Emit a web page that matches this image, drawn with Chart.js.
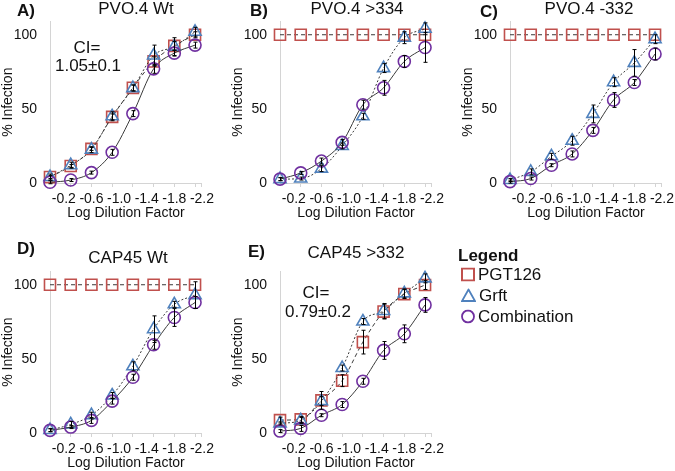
<!DOCTYPE html>
<html>
<head>
<meta charset="utf-8">
<script src="https://cdn.jsdelivr.net/npm/chart.js@4.4.1/dist/chart.umd.min.js"></script>
<style>
  body { margin: 0; width: 675px; height: 471px; overflow: hidden; background: #fff; position: relative;
         font-family: "Liberation Sans", Arial, sans-serif; color: #111; }
  canvas { position: absolute; }
  .c { position: absolute; transform: translate(-50%, -50%); white-space: nowrap; line-height: 1; font-size: 17px; }
  .l { position: absolute; transform: translateY(-50%); white-space: nowrap; line-height: 1; font-size: 17px; }
  .b { font-weight: bold; }
  .leg { position: absolute; left: 461px; transform: translateY(-50%); white-space: nowrap; line-height: 1; font-size: 17px; display: flex; align-items: center; }
  .leg svg { margin-right: 3px; }
</style>
</head>
<body>
<canvas id="chartA" width="218" height="225" style="left:0px;top:0px"></canvas>
<canvas id="chartB" width="218" height="225" style="left:230px;top:0px"></canvas>
<canvas id="chartC" width="218" height="225" style="left:460px;top:0px"></canvas>
<canvas id="chartD" width="218" height="225" style="left:0px;top:250px"></canvas>
<canvas id="chartE" width="218" height="225" style="left:230px;top:250px"></canvas>

<div class="l b" style="left:17px;top:10px">A)</div>
<div class="l b" style="left:250px;top:10px">B)</div>
<div class="l b" style="left:480px;top:11px">C)</div>
<div class="l b" style="left:17px;top:248px">D)</div>
<div class="l b" style="left:248px;top:251px">E)</div>

<div class="c" style="left:136px;top:8px">PVO.4 Wt</div>
<div class="c" style="left:357px;top:8px">PVO.4 &gt;334</div>
<div class="c" style="left:589px;top:8px">PVO.4 -332</div>
<div class="c" style="left:128px;top:257px">CAP45 Wt</div>
<div class="c" style="left:356px;top:252px">CAP45 &gt;332</div>

<div class="c" style="left:87px;top:47px">CI=</div>
<div class="c" style="left:88px;top:65px">1.05±0.1</div>
<div class="c" style="left:316px;top:292px">CI=</div>
<div class="c" style="left:318px;top:311px">0.79±0.2</div>

<div class="l b" style="left:458px;top:255px">Legend</div>
<div class="leg" style="top:274px"><svg width="14" height="14"><rect x="1" y="1" width="12" height="12" fill="none" stroke="#C0504D" stroke-width="2"/></svg>PGT126</div>
<div class="leg" style="top:295px"><svg width="15" height="14"><polygon points="7.5,1 14,12.5 1,12.5" fill="none" stroke="#4F81BD" stroke-width="1.8"/></svg>Grft</div>
<div class="leg" style="top:316px"><svg width="14" height="14"><circle cx="7" cy="7" r="6" fill="none" stroke="#7030A0" stroke-width="1.8"/></svg>Combination</div>

<script>
// x positions of the dilution series (log10 of the dilution)
const logDilution = [0, -0.3, -0.6, -0.9, -1.2, -1.5, -1.8, -2.1];
const xTickLabels = [-0.2, -0.6, -1.0, -1.4, -1.8, -2.2];
const yTicks = [0, 50, 100];

// A) PVO.4 Wt
const pgtA = [4, 11.5, 23, 44.6, 64.2, 82, 92.5, 100];
const pgtErrA = [1, 1, 1, 2, 2, 3, 3, 2];
const grftA = [4, 12, 22.5, 45, 64, 86, 92, 102];
const grftErrA = [2, 2, 2, 3, 2, 7, 6, 3];
const comboA = [0.5, 2, 7, 20.7, 46.8, 77, 87.6, 93];
const comboErrA = [1, 1, 1, 2, 2, 3, 2, 2];

// B) PVO.4 >334
const pgtB = [100, 100, 100, 100, 100, 100, 100, 100];
const pgtErrB = [0, 0, 0, 0, 0, 0, 0, 0];
const grftB = [2.6, 3, 9.7, 25, 45, 77.5, 98, 104];
const grftErrB = [1, 1, 2, 2, 2, 3, 4, 4];
const comboB = [2.6, 6.8, 14.8, 27.4, 52.8, 64.2, 82, 91.4];
const comboErrB = [1, 1, 2, 2, 3, 5, 4, 10];

// C) PVO.4 -332
const pgtC = [100, 100, 100, 100, 100, 100, 100, 100];
const pgtErrC = [0, 0, 0, 0, 0, 0, 0, 0];
const grftC = [2, 7.5, 18, 28.5, 46.6, 68, 81, 97];
const grftErrC = [1, 2, 2, 3, 6, 3, 9, 3];
const comboC = [0.9, 3, 12, 19.6, 35.5, 56, 67.8, 87];
const comboErrC = [1, 1, 1, 2, 2, 5, 2, 4];

// D) CAP45 Wt
const pgtD = [100, 100, 100, 100, 100, 100, 100, 100];
const pgtErrD = [0, 0, 0, 0, 0, 0, 0, 0];
const grftD = [2, 5.8, 12, 25.3, 45, 70, 86.8, 93];
const grftErrD = [1, 2, 2, 2, 3, 9, 2, 9];
const comboD = [1.8, 4, 8.5, 21.5, 37.6, 59.5, 77.9, 88];
const comboErrD = [1, 1, 2, 2, 2, 3, 6, 4];

// E) CAP45 >332
const pgtE = [8.7, 9.2, 22, 35.3, 61.3, 81.9, 93.7, 99.8];
const pgtErrE = [2, 2, 6, 4, 8, 5, 3, 3];
const grftE = [6.5, 8.5, 21.5, 43.8, 75.2, 82.3, 94.2, 104.3];
const grftErrE = [1, 2, 3, 2, 2, 5, 3, 3];
const comboE = [1.3, 3.1, 12, 19.2, 34.9, 55.7, 66.9, 86.4];
const comboErrE = [1, 2, 1, 2, 2, 6, 6, 5];

const RED = "#C0504D";
const BLUE = "#4F81BD";
const PURPLE = "#7030A0";
const AXIS = "#d4d4d4";

Chart.defaults.font.family = '"Liberation Sans", Arial, sans-serif';
Chart.defaults.color = "#111";

const near = (a, b) => Math.abs(a - b) < 1e-6;
const tickMarks = logDilution.slice(1).concat([-2.2]);
const xTickValues = [0, ...new Set([...xTickLabels, ...tickMarks].map((v) => Math.round(v * 10) / 10))]
  .sort((a, b) => b - a);

const errorBars = {
  id: "errorBars",
  afterDatasetsDraw(chart) {
    const { ctx, scales: { x, y } } = chart;
    ctx.save();
    ctx.strokeStyle = "#000";
    ctx.lineWidth = 1;
    chart.data.datasets.forEach((ds) => {
      if (!ds.errors) return;
      ds.data.forEach((pt, i) => {
        const e = ds.errors[i];
        if (!e) return;
        const px = Math.round(x.getPixelForValue(pt.x)) + 0.5;
        const top = y.getPixelForValue(pt.y + e);
        const bot = y.getPixelForValue(pt.y - e);
        ctx.beginPath();
        ctx.moveTo(px, top); ctx.lineTo(px, bot);
        ctx.moveTo(px - 2, top); ctx.lineTo(px + 2, top);
        ctx.moveTo(px - 2, bot); ctx.lineTo(px + 2, bot);
        ctx.stroke();
      });
    });
    ctx.restore();
  }
};

const series = (vals, errs, style) => ({
  data: logDilution.map((x, i) => ({ x, y: vals[i] })),
  errors: errs,
  borderColor: "#3a3a3a",
  borderWidth: 1,
  borderDash: style.dash,
  pointStyle: style.shape,
  pointRadius: style.radius,
  pointBorderColor: style.color,
  pointBackgroundColor: "rgba(0,0,0,0)",
  pointBorderWidth: 1.6,
  cubicInterpolationMode: "monotone",
  clip: false
});

const makePanel = (id, pgt, pgtErr, grft, grftErr, combo, comboErr) => {
  new Chart(document.getElementById(id), {
    type: "line",
    data: {
      datasets: [
        series(combo, comboErr, { dash: [], shape: "circle", radius: 6, color: PURPLE }),
        series(grft, grftErr, { dash: [2, 2], shape: "triangle", radius: 7, color: BLUE }),
        series(pgt, pgtErr, { dash: [4, 3], shape: "rect", radius: 7.8, color: RED })
      ]
    },
    options: {
      responsive: false,
      animation: false,
      layout: { padding: { left: 0, right: 15, top: 18.4, bottom: 0 } },
      plugins: { legend: { display: false }, tooltip: { enabled: false }, title: { display: false } },
      scales: {
        x: {
          type: "linear",
          min: -2.2,
          max: 0,
          reverse: true,
          afterBuildTicks: (s) => { s.ticks = xTickValues.map((value) => ({ value })); },
          afterFit: (s) => { s.height = 42; },
          ticks: {
            autoSkip: false,
            maxRotation: 0,
            minRotation: 0,
            padding: 4,
            font: { size: 14 },
            callback: (v) => (xTickLabels.some((t) => near(t, v)) ? v.toFixed(1) : "")
          },
          grid: {
            drawOnChartArea: false,
            drawTicks: true,
            tickLength: 4,
            tickColor: (c) => (c.tick && tickMarks.some((t) => near(t, c.tick.value)) ? AXIS : "rgba(0,0,0,0)")
          },
          border: { display: true, color: AXIS, width: 1 },
          title: { display: true, text: "Log Dilution Factor", font: { size: 14 }, padding: { top: 0, bottom: 3 } }
        },
        y: {
          min: 0,
          max: 109,
          afterBuildTicks: (s) => { s.ticks = yTicks.map((value) => ({ value })); },
          afterFit: (s) => { s.width = 50; },
          ticks: { padding: 13, font: { size: 14 } },
          grid: { display: false, drawTicks: false },
          border: { display: true, color: AXIS, width: 1 },
          title: { display: true, text: "% Infection", font: { size: 14 }, padding: { top: 0, bottom: 0 } }
        }
      }
    },
    plugins: [errorBars]
  });
};

makePanel("chartA", pgtA, pgtErrA, grftA, grftErrA, comboA, comboErrA);
makePanel("chartB", pgtB, pgtErrB, grftB, grftErrB, comboB, comboErrB);
makePanel("chartC", pgtC, pgtErrC, grftC, grftErrC, comboC, comboErrC);
makePanel("chartD", pgtD, pgtErrD, grftD, grftErrD, comboD, comboErrD);
makePanel("chartE", pgtE, pgtErrE, grftE, grftErrE, comboE, comboErrE);
</script>
</body>
</html>
